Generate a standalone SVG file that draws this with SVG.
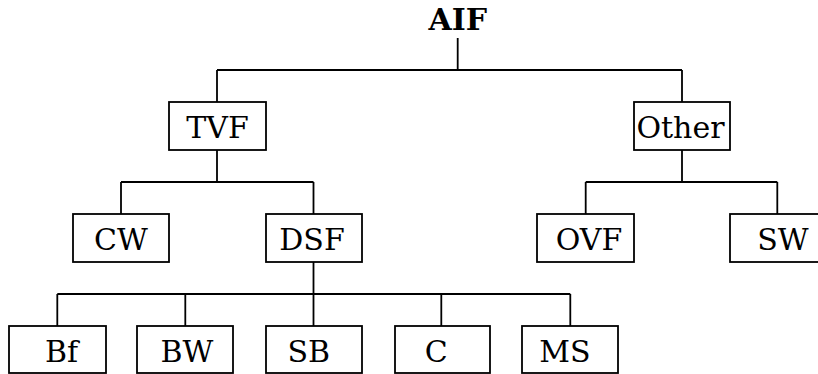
<svg xmlns="http://www.w3.org/2000/svg" width="818" height="374" viewBox="0 0 818 374">
<style>
.box{fill:#fff;stroke:#000;stroke-width:1.8}
.lbl{font-family:"DejaVu Serif","Liberation Serif",serif;font-size:30px;fill:#000;text-anchor:middle}
.root{font-weight:bold}
.conn{fill:none;stroke:#000;stroke-width:1.8}
</style>
<rect width="818" height="374" fill="#fff"/>
<g id="connectors" class="conn">
<path d="M457.7 38V70M217 70H682M217 70V102M682 70V102"/>
<path d="M217 150V182M121 182H313.5M121 182V214M313.5 182V214"/>
<path d="M682 150V182M585.7 182H777.3M585.7 182V214M777.3 182V214"/>
<path d="M313.5 262V294M57.3 294H570.3M57.3 294V326M185.3 294V326M313.5 294V326M441.3 294V326M570.3 294V326"/>
</g>
<g id="AIF"><text class="lbl root" x="457.7" y="30">AIF</text></g>
<g id="TVF"><rect class="box" x="169" y="102" width="97" height="48"/><text class="lbl" x="217.5" y="138">TVF</text></g>
<g id="Other"><rect class="box" x="634" y="102" width="96" height="48"/><text class="lbl" x="680.5" y="138">Other</text></g>
<g id="CW"><rect class="box" x="73" y="214" width="96" height="48"/><text class="lbl" x="121" y="250">CW</text></g>
<g id="DSF"><rect class="box" x="266" y="214" width="96" height="48"/><text class="lbl" x="312" y="250">DSF</text></g>
<g id="OVF"><rect class="box" x="537" y="214" width="97" height="48"/><text class="lbl" x="589" y="250">OVF</text></g>
<g id="SW"><rect class="box" x="730" y="214" width="96" height="48"/><text class="lbl" x="783" y="250">SW</text></g>
<g id="Bf"><rect class="box" x="9" y="326" width="97" height="47"/><text class="lbl" x="61.5" y="362">Bf</text></g>
<g id="BW"><rect class="box" x="137" y="326" width="96" height="47"/><text class="lbl" x="187" y="362">BW</text></g>
<g id="SB"><rect class="box" x="266" y="326" width="96" height="47"/><text class="lbl" x="308.7" y="362">SB</text></g>
<g id="C"><rect class="box" x="395" y="326" width="95" height="47"/><text class="lbl" x="436.3" y="362">C</text></g>
<g id="MS"><rect class="box" x="522" y="326" width="96" height="47"/><text class="lbl" x="565" y="362">MS</text></g>
</svg>
